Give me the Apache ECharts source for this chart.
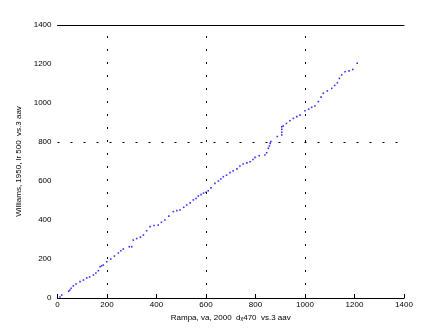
<!DOCTYPE html>
<html><head><meta charset="utf-8">
<script src="https://cdn.jsdelivr.net/npm/echarts@6/dist/echarts.min.js"></script>
<style>html,body{margin:0;padding:0;background:#fff}#c{width:447px;height:335px}</style>
</head><body><div id="c"></div>
<script>
var xTicks = [0, 200, 400, 600, 800, 1000, 1200, 1400];
var yTicks = [0, 200, 400, 600, 800, 1000, 1200, 1400];
var gridX = [200, 600, 1000];
var gridY = [800];
var xVals = [10,17,45,50,55,64,75,91,105,118,130,145,155,165,172,178,185,199,215,230,246,256,266,290,300,306,320,335,347,360,374,390,407,420,434,450,468,482,495,510,522,536,549,560,569,580,590,600,609,620,636,650,660,670,683,697,710,725,737,750,765,778,790,798,815,838,845,852,856,859,862,888,906,906,906,906,912,925,939,953,967,980,1000,1015,1027,1040,1054,1065,1074,1090,1108,1120,1131,1139,1148,1162,1178,1193,1211];
var yVals = [5,15,35,41,50,62,72,84,92,103,108,118,128,140,160,165,169,186,200,215,231,242,251,263,263,297,305,312,323,345,366,372,374,388,400,420,443,448,451,465,477,488,503,510,523,530,538,542,550,565,588,600,610,622,630,643,652,662,677,687,693,699,710,721,730,733,745,768,780,793,802,828,836,850,865,878,882,895,909,921,930,938,960,968,978,985,1007,1030,1050,1062,1075,1090,1104,1126,1144,1160,1165,1172,1204];
var xTitle = 'Rampa, va, 2000  d\u2093470  vs.3 aav';
var yTitle = 'Williams, 1950, lr 500  vs.3 aav';

var pts = xVals.map(function(x, i){ return [x, yVals[i]]; });
var dotted = {color:'#000', width:1, type:[2,11]};
var marks = gridX.map(function(v){ return {xAxis:v}; }).concat(gridY.map(function(v){ return {yAxis:v}; }));
var font = {fontFamily:'Liberation Sans, Arial, sans-serif', fontSize:8, color:'#000'};

var chart = echarts.init(document.getElementById('c'), null, {renderer:'canvas'});
chart.setOption({
  animation:false,
  backgroundColor:'#fff',
  grid:{left:57.5, right:43, top:25, bottom:37, containLabel:false},
  xAxis:[{
    type:'value', min:0, max:1400, interval:200, position:'bottom',
    axisLine:{show:true, onZero:false, lineStyle:{color:'#000', width:1}},
    axisTick:{show:true, inside:true, length:4, lineStyle:{color:'#000'}},
    axisLabel:Object.assign({margin:3, formatter:function(v){return xTicks.indexOf(v)>=0?String(v):'';}}, font),
    splitLine:{show:false},
    name:xTitle, nameLocation:'middle', nameGap:12,
    nameTextStyle:font
  },{
    type:'value', min:0, max:1400, interval:200, position:'top',
    axisLine:{show:true, onZero:false, lineStyle:{color:'#000', width:1}},
    axisTick:{show:false}, axisLabel:{show:false}, splitLine:{show:false}
  }],
  yAxis:{
    type:'value', min:0, max:1400, interval:200,
    axisLine:{show:false},
    axisTick:{show:false},
    axisLabel:Object.assign({margin:6, formatter:function(v){return yTicks.indexOf(v)>=0?String(v):'';}}, font),
    splitLine:{show:false},
    name:yTitle, nameLocation:'middle', nameGap:27, nameRotate:90,
    nameTextStyle:font
  },
  series:[{
    type:'scatter', data:pts, symbol:'rect', symbolSize:1.6, xAxisIndex:0,
    itemStyle:{color:'#0000ff'},
    markLine:{silent:true, symbol:'none', label:{show:false}, lineStyle:dotted, data:marks}
  },{
    type:'scatter', data:[], xAxisIndex:1
  }]
});
</script></body></html>
